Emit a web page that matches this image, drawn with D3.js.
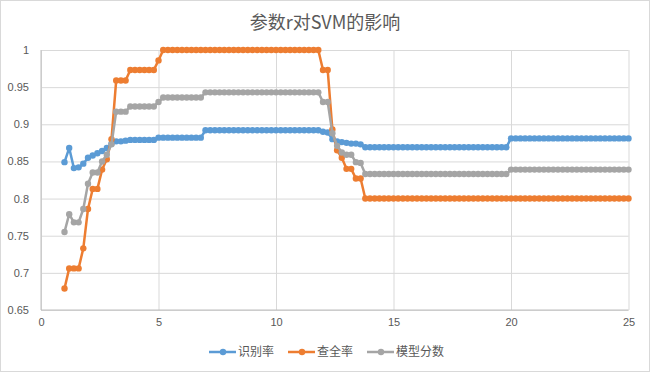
<!DOCTYPE html>
<html>
<head>
<meta charset="utf-8">
<script src="https://cdn.jsdelivr.net/npm/d3@7"></script>
<style>
  html, body { margin: 0; padding: 0; background: #fff; }
  svg { display: block; }
</style>
</head>
<body>
<div id="chart"></div>
<script>
// x values (parameter r)
const rValues = [
  1, 1.2, 1.4, 1.6, 1.8, 2, 2.2, 2.4, 2.6, 2.8,
  3, 3.2, 3.4, 3.6, 3.8, 4, 4.2, 4.4, 4.6, 4.8,
  5, 5.2, 5.4, 5.6, 5.8, 6, 6.2, 6.4, 6.6, 6.8,
  7, 7.2, 7.4, 7.6, 7.8, 8, 8.2, 8.4, 8.6, 8.8,
  9, 9.2, 9.4, 9.6, 9.8, 10, 10.2, 10.4, 10.6, 10.8,
  11, 11.2, 11.4, 11.6, 11.8, 12, 12.2, 12.4, 12.6, 12.8,
  13, 13.2, 13.4, 13.6, 13.8, 14, 14.2, 14.4, 14.6, 14.8,
  15, 15.2, 15.4, 15.6, 15.8, 16, 16.2, 16.4, 16.6, 16.8,
  17, 17.2, 17.4, 17.6, 17.8, 18, 18.2, 18.4, 18.6, 18.8,
  19, 19.2, 19.4, 19.6, 19.8, 20, 20.2, 20.4, 20.6, 20.8,
  21, 21.2, 21.4, 21.6, 21.8, 22, 22.2, 22.4, 22.6, 22.8,
  23, 23.2, 23.4, 23.6, 23.8, 24, 24.2, 24.4, 24.6, 24.8,
  25
];

// 识别率
const recognitionRate = [
  0.849, 0.868, 0.841, 0.842, 0.847, 0.855, 0.858, 0.861, 0.864, 0.868,
  0.874, 0.877, 0.877, 0.878, 0.879, 0.879, 0.879, 0.879, 0.879, 0.879,
  0.882, 0.882, 0.882, 0.882, 0.882, 0.882, 0.882, 0.882, 0.882, 0.882,
  0.892, 0.892, 0.892, 0.892, 0.892, 0.892, 0.892, 0.892, 0.892, 0.892,
  0.892, 0.892, 0.892, 0.892, 0.892, 0.892, 0.892, 0.892, 0.892, 0.892,
  0.892, 0.892, 0.892, 0.892, 0.892, 0.890, 0.889, 0.880, 0.877, 0.876,
  0.875, 0.874, 0.874, 0.873, 0.869, 0.869, 0.869, 0.869, 0.869, 0.869,
  0.869, 0.869, 0.869, 0.869, 0.869, 0.869, 0.869, 0.869, 0.869, 0.869,
  0.869, 0.869, 0.869, 0.869, 0.869, 0.869, 0.869, 0.869, 0.869, 0.869,
  0.869, 0.869, 0.869, 0.869, 0.869, 0.881, 0.881, 0.881, 0.881, 0.881,
  0.881, 0.881, 0.881, 0.881, 0.881, 0.881, 0.881, 0.881, 0.881, 0.881,
  0.881, 0.881, 0.881, 0.881, 0.881, 0.881, 0.881, 0.881, 0.881, 0.881,
  0.881
];

// 查全率
const recallRate = [
  0.679, 0.706, 0.706, 0.706, 0.733, 0.786, 0.813, 0.813, 0.839, 0.853,
  0.880, 0.959, 0.959, 0.959, 0.973, 0.973, 0.973, 0.973, 0.973, 0.973,
  0.986, 1, 1, 1, 1, 1, 1, 1, 1, 1,
  1, 1, 1, 1, 1, 1, 1, 1, 1, 1,
  1, 1, 1, 1, 1, 1, 1, 1, 1, 1,
  1, 1, 1, 1, 1, 0.973, 0.973, 0.893, 0.865, 0.855,
  0.840, 0.840, 0.827, 0.827, 0.800, 0.800, 0.800, 0.800, 0.800, 0.800,
  0.800, 0.800, 0.800, 0.800, 0.800, 0.800, 0.800, 0.800, 0.800, 0.800,
  0.800, 0.800, 0.800, 0.800, 0.800, 0.800, 0.800, 0.800, 0.800, 0.800,
  0.800, 0.800, 0.800, 0.800, 0.800, 0.800, 0.800, 0.800, 0.800, 0.800,
  0.800, 0.800, 0.800, 0.800, 0.800, 0.800, 0.800, 0.800, 0.800, 0.800,
  0.800, 0.800, 0.800, 0.800, 0.800, 0.800, 0.800, 0.800, 0.800, 0.800,
  0.800
];

// 模型分数
const modelScore = [
  0.755, 0.779, 0.768, 0.768, 0.786, 0.820, 0.835, 0.835, 0.850, 0.859,
  0.873, 0.917, 0.917, 0.917, 0.924, 0.924, 0.924, 0.924, 0.924, 0.924,
  0.930, 0.936, 0.936, 0.936, 0.936, 0.936, 0.936, 0.936, 0.936, 0.936,
  0.943, 0.943, 0.943, 0.943, 0.943, 0.943, 0.943, 0.943, 0.943, 0.943,
  0.943, 0.943, 0.943, 0.943, 0.943, 0.943, 0.943, 0.943, 0.943, 0.943,
  0.943, 0.943, 0.943, 0.943, 0.943, 0.930, 0.930, 0.888, 0.871, 0.862,
  0.859, 0.859, 0.849, 0.848, 0.833, 0.833, 0.833, 0.833, 0.833, 0.833,
  0.833, 0.833, 0.833, 0.833, 0.833, 0.833, 0.833, 0.833, 0.833, 0.833,
  0.833, 0.833, 0.833, 0.833, 0.833, 0.833, 0.833, 0.833, 0.833, 0.833,
  0.833, 0.833, 0.833, 0.833, 0.833, 0.839, 0.839, 0.839, 0.839, 0.839,
  0.839, 0.839, 0.839, 0.839, 0.839, 0.839, 0.839, 0.839, 0.839, 0.839,
  0.839, 0.839, 0.839, 0.839, 0.839, 0.839, 0.839, 0.839, 0.839, 0.839,
  0.839
];

const seriesNames = ['识别率', '查全率', '模型分数'];
const seriesColors = ['#5B9BD5', '#ED7D31', '#A5A5A5'];
const xTicks = [0, 5, 10, 15, 20, 25];
const yTicks = [0.65, 0.7, 0.75, 0.8, 0.85, 0.9, 0.95, 1];
const chartTitle = '参数r对SVM的影响';

const series = [recognitionRate, recallRate, modelScore].map((vals, i) => ({
  name: seriesNames[i],
  color: seriesColors[i],
  points: vals.map((v, j) => ({ x: rValues[j], y: v }))
}));

const W = 650, H = 372;
const margin = { top: 50, right: 21.5, bottom: 62, left: 41 };
const width = W - margin.left - margin.right;
const height = H - margin.top - margin.bottom;

const svg = d3.select('#chart')
  .append('svg')
  .attr('width', W)
  .attr('height', H);

// chart border
svg.append('rect')
  .attr('x', 0.5).attr('y', 0.5)
  .attr('width', W - 1).attr('height', H - 1)
  .attr('fill', '#fff')
  .attr('stroke', '#d9d9d9');

svg.append('text')
  .attr('x', W / 2)
  .attr('y', 29)
  .attr('text-anchor', 'middle')
  .attr('font-family', '"Noto Sans CJK SC", sans-serif')
  .attr('font-size', 18)
  .attr('fill', '#595959')
  .text(chartTitle);

const g = svg.append('g')
  .attr('transform', `translate(${margin.left},${margin.top})`);

const x = d3.scaleLinear().domain([0, 25]).range([0, width]);
const y = d3.scaleLinear().domain([0.65, 1]).range([height, 0]);

// gridlines
g.append('g')
  .call(d3.axisLeft(y).tickValues(yTicks).tickSize(-width).tickFormat(''))
  .call(s => s.select('.domain').remove())
  .call(s => s.selectAll('line').attr('stroke', '#d9d9d9'));

g.append('g')
  .attr('transform', `translate(0,${height})`)
  .call(d3.axisBottom(x).tickValues(xTicks).tickSize(-height).tickFormat(''))
  .call(s => s.select('.domain').remove())
  .call(s => s.selectAll('line').attr('stroke', '#d9d9d9'));

// axis lines
g.append('line')
  .attr('x1', 0).attr('x2', 0).attr('y1', 0).attr('y2', height)
  .attr('stroke', '#bfbfbf');
g.append('line')
  .attr('x1', 0).attr('x2', width).attr('y1', height).attr('y2', height)
  .attr('stroke', '#bfbfbf');

// tick labels
const yAxis = g.append('g')
  .call(d3.axisLeft(y).tickValues(yTicks).tickSize(0).tickPadding(12)
    .tickFormat(d => d3.format('')(+d.toFixed(2))));
yAxis.select('.domain').remove();
yAxis.selectAll('text')
  .attr('font-family', '"Liberation Sans", Arial, sans-serif')
  .attr('font-size', 11)
  .attr('fill', '#595959');

const xAxis = g.append('g')
  .attr('transform', `translate(0,${height})`)
  .call(d3.axisBottom(x).tickValues(xTicks).tickSize(0).tickPadding(8));
xAxis.select('.domain').remove();
xAxis.selectAll('text')
  .attr('font-family', '"Liberation Sans", Arial, sans-serif')
  .attr('font-size', 11)
  .attr('fill', '#595959');

// series
const line = d3.line()
  .x(d => x(d.x))
  .y(d => y(d.y));

series.forEach(s => {
  const sg = g.append('g');
  sg.append('path')
    .datum(s.points)
    .attr('fill', 'none')
    .attr('stroke', s.color)
    .attr('stroke-width', 2.5)
    .attr('stroke-linejoin', 'round')
    .attr('d', line);
  sg.selectAll('circle')
    .data(s.points)
    .enter()
    .append('circle')
    .attr('cx', d => x(d.x))
    .attr('cy', d => y(d.y))
    .attr('r', 3.2)
    .attr('fill', s.color);
});

// legend
const legendX = [209, 288, 367];
const legend = svg.append('g').attr('transform', 'translate(0,352)');
series.forEach((s, i) => {
  const lg = legend.append('g').attr('transform', `translate(${legendX[i]},0)`);
  lg.append('line')
    .attr('x1', 0).attr('x2', 27).attr('y1', 0).attr('y2', 0)
    .attr('stroke', s.color)
    .attr('stroke-width', 2.5);
  lg.append('circle')
    .attr('cx', 14).attr('cy', 0).attr('r', 3.2)
    .attr('fill', s.color);
  lg.append('text')
    .attr('x', 29)
    .attr('y', 0)
    .attr('dy', '0.35em')
    .attr('font-family', '"Noto Sans CJK SC", sans-serif')
    .attr('font-size', 12)
    .attr('fill', '#595959')
    .text(s.name);
});
</script>
</body>
</html>
